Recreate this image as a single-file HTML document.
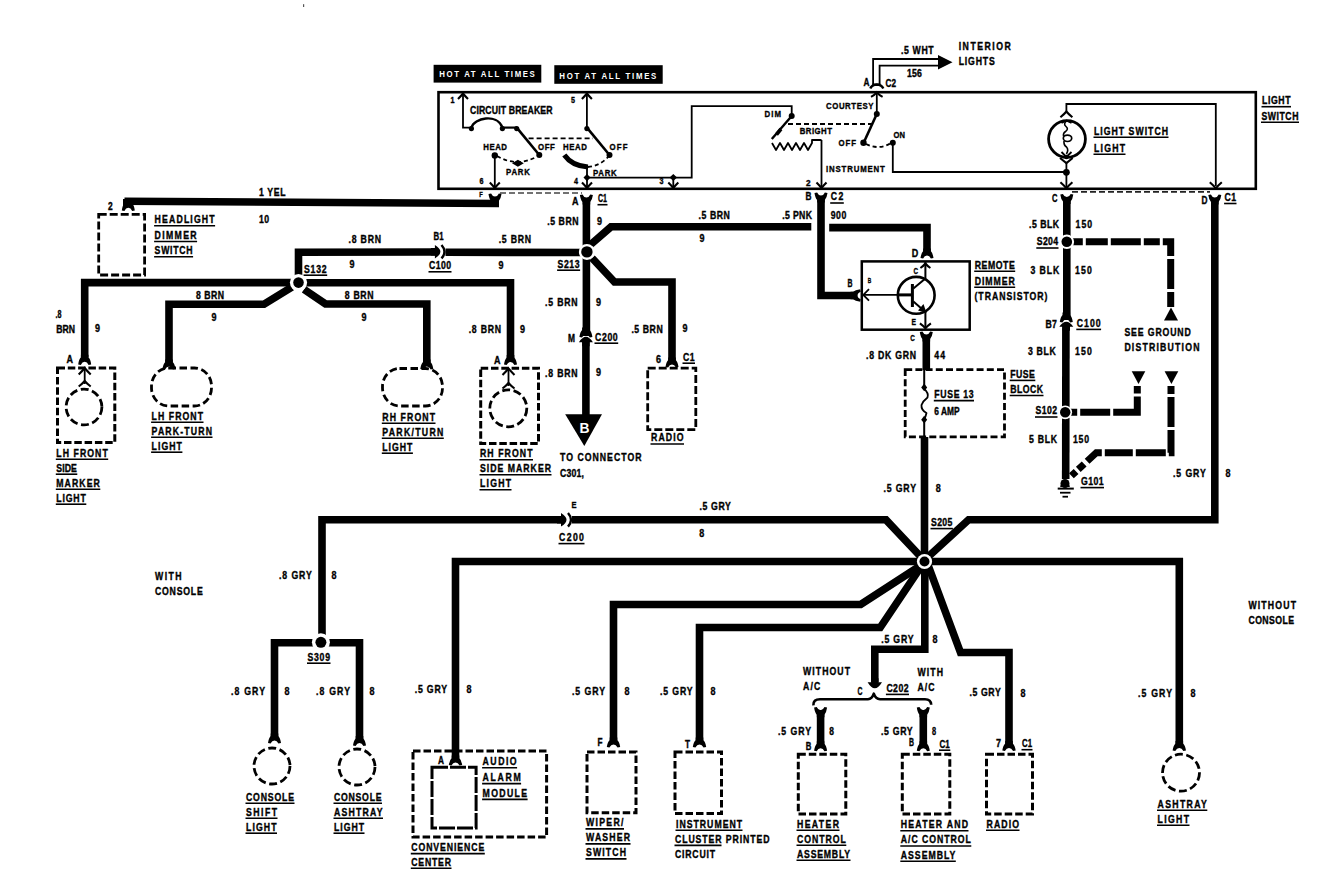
<!DOCTYPE html><html><head><meta charset="utf-8"><style>html,body{margin:0;padding:0;background:#fff;}svg{display:block;}text{font-family:"Liberation Sans",sans-serif;font-weight:bold;}</style></head><body>
<svg width="1344" height="871" viewBox="0 0 1344 871">
<rect width="1344" height="871" fill="#fff"/>
<rect x="433.6" y="64.8" width="107.7" height="17.8" fill="#000"/>
<text transform="translate(439.3,77.2) scale(0.87,1)" x="0" y="0" font-size="9" fill="#fff" textLength="109.8" lengthAdjust="spacing">HOT AT ALL TIMES</text>
<rect x="554.3" y="65.2" width="108.4" height="18.6" fill="#000"/>
<text transform="translate(559.3,78.7) scale(0.87,1)" x="0" y="0" font-size="9" fill="#fff" textLength="111.5" lengthAdjust="spacing">HOT AT ALL TIMES</text>
<rect x="438.5" y="92.2" width="817.3" height="96.6" fill="none" stroke="#000" stroke-width="2.6"/>
<text transform="translate(1262.0,104.1) scale(0.87,1)" x="0" y="0" font-size="10" fill="#000" textLength="32.8" lengthAdjust="spacing" stroke="#000" stroke-width="0.35">LIGHT</text>
<line x1="1261.5" y1="106.7" x2="1291.0" y2="106.7" stroke="#000" stroke-width="1.6"/>
<text transform="translate(1261.5,119.6) scale(0.87,1)" x="0" y="0" font-size="10" fill="#000" textLength="42.5" lengthAdjust="spacing" stroke="#000" stroke-width="0.35">SWITCH</text>
<line x1="1261.0" y1="122.2" x2="1299.0" y2="122.2" stroke="#000" stroke-width="1.6"/>
<text x="450.5" y="103.2" font-size="9" fill="#000" text-anchor="start" textLength="4.0" lengthAdjust="spacingAndGlyphs" stroke="#000" stroke-width="0.35">1</text>
<polyline points="463.0,94.0 463.0,127.6 471.4,127.6" fill="none" stroke="#000" stroke-width="1.8" stroke-linejoin="miter"/>
<path d="M458,99.0 Q461,96.0 463,93.5 Q465,96.0 468,99.0" fill="none" stroke="#000" stroke-width="2.1"/>
<text transform="translate(470.0,113.6) scale(0.87,1)" x="0" y="0" font-size="10" fill="#000" textLength="94.9" lengthAdjust="spacing" stroke="#000" stroke-width="0.35">CIRCUIT BREAKER</text>
<path d="M471.4,127.6 C474,118 497,113 502.4,127.6" fill="none" stroke="#000" stroke-width="2.4" stroke-linejoin="round"/>
<circle cx="471.4" cy="128.6" r="2.6" fill="#000"/>
<circle cx="502.4" cy="128.6" r="2.6" fill="#000"/>
<circle cx="516.7" cy="128.6" r="2.6" fill="#000"/>
<polyline points="502.4,127.6 516.7,127.6" fill="none" stroke="#000" stroke-width="2.2" stroke-linejoin="miter"/>
<path d="M516.7,127.6 L539.3,155" fill="none" stroke="#000" stroke-width="2.6" stroke-linejoin="round"/>
<circle cx="539.3" cy="155.0" r="3.0" fill="#000"/>
<polyline points="528.6,138.3 592.9,138.3" fill="none" stroke="#000" stroke-width="1.8" stroke-linejoin="miter" stroke-dasharray="5 3"/>
<text transform="translate(483.3,149.9) scale(0.87,1)" x="0" y="0" font-size="9" fill="#000" textLength="27.2" lengthAdjust="spacing" stroke="#000" stroke-width="0.35">HEAD</text>
<text transform="translate(538.0,149.9) scale(0.87,1)" x="0" y="0" font-size="9" fill="#000" textLength="19.3" lengthAdjust="spacing" stroke="#000" stroke-width="0.35">OFF</text>
<circle cx="494.8" cy="155.5" r="3.2" fill="#000"/>
<path d="M497,156 Q517,168 538,156" fill="none" stroke="#000" stroke-width="1.8" stroke-dasharray="4 3"/>
<path d="M512,163.3 L517.9,159.8 L523.8,163.3 L517.9,166.8 Z" fill="#000" stroke="none"/>
<text transform="translate(506.0,174.9) scale(0.87,1)" x="0" y="0" font-size="9" fill="#000" textLength="27.4" lengthAdjust="spacing" stroke="#000" stroke-width="0.35">PARK</text>
<polyline points="494.8,155.5 494.8,187.0" fill="none" stroke="#000" stroke-width="1.8" stroke-linejoin="miter"/>
<path d="M489.8,182.5 Q492.8,185.5 494.8,188 Q496.8,185.5 499.8,182.5" fill="none" stroke="#000" stroke-width="2.1"/>
<text x="479.5" y="184.2" font-size="9" fill="#000" text-anchor="start" textLength="4.0" lengthAdjust="spacingAndGlyphs" stroke="#000" stroke-width="0.35">6</text>
<text x="571.0" y="103.2" font-size="9" fill="#000" text-anchor="start" textLength="4.0" lengthAdjust="spacingAndGlyphs" stroke="#000" stroke-width="0.35">5</text>
<polyline points="586.9,94.0 586.9,127.6" fill="none" stroke="#000" stroke-width="1.8" stroke-linejoin="miter"/>
<path d="M581.9,99.0 Q584.9,96.0 586.9,93.5 Q588.9,96.0 591.9,99.0" fill="none" stroke="#000" stroke-width="2.1"/>
<circle cx="586.9" cy="128.6" r="2.6" fill="#000"/>
<path d="M586.9,127.6 L609.5,155" fill="none" stroke="#000" stroke-width="2.6" stroke-linejoin="round"/>
<circle cx="609.5" cy="155.0" r="3.0" fill="#000"/>
<text transform="translate(563.0,149.9) scale(0.87,1)" x="0" y="0" font-size="9" fill="#000" textLength="27.6" lengthAdjust="spacing" stroke="#000" stroke-width="0.35">HEAD</text>
<text transform="translate(609.5,149.9) scale(0.87,1)" x="0" y="0" font-size="9" fill="#000" textLength="20.6" lengthAdjust="spacing" stroke="#000" stroke-width="0.35">OFF</text>
<path d="M564.3,155 Q572,166 588,167" fill="none" stroke="#000" stroke-width="5" stroke-linejoin="round"/>
<path d="M588,167 Q600,166 609,156" fill="none" stroke="#000" stroke-width="1.8" stroke-dasharray="4 3"/>
<text transform="translate(592.9,175.6) scale(0.87,1)" x="0" y="0" font-size="9" fill="#000" textLength="27.4" lengthAdjust="spacing" stroke="#000" stroke-width="0.35">PARK</text>
<polyline points="587.0,167.0 587.0,187.0" fill="none" stroke="#000" stroke-width="1.8" stroke-linejoin="miter"/>
<path d="M587,174 L590.5,177.6 L587,181.2 L583.5,177.6 Z" fill="#000" stroke="none"/>
<path d="M582,182.5 Q585,185.5 587,188 Q589,185.5 592,182.5" fill="none" stroke="#000" stroke-width="2.1"/>
<text x="574.0" y="184.2" font-size="9" fill="#000" text-anchor="start" textLength="4.0" lengthAdjust="spacingAndGlyphs" stroke="#000" stroke-width="0.35">4</text>
<polyline points="587.0,177.6 691.7,177.6 691.7,106.2 791.7,106.2 791.7,116.0" fill="none" stroke="#000" stroke-width="1.8" stroke-linejoin="miter"/>
<path d="M673.3,174 L677,177.5 L673.3,181 L669.6,177.5 Z" fill="#000" stroke="none"/>
<polyline points="673.3,177.5 673.3,187.0" fill="none" stroke="#000" stroke-width="1.8" stroke-linejoin="miter"/>
<path d="M668.3,182.5 Q671.3,185.5 673.3,188 Q675.3,185.5 678.3,182.5" fill="none" stroke="#000" stroke-width="2.1"/>
<text x="659.5" y="184.2" font-size="9" fill="#000" text-anchor="start" textLength="4.0" lengthAdjust="spacingAndGlyphs" stroke="#000" stroke-width="0.35">3</text>
<text transform="translate(764.6,117.2) scale(0.87,1)" x="0" y="0" font-size="9" fill="#000" textLength="18.9" lengthAdjust="spacing" stroke="#000" stroke-width="0.35">DIM</text>
<circle cx="791.7" cy="116.0" r="3.0" fill="#000"/>
<polyline points="788.0,124.0 872.0,124.0" fill="none" stroke="#000" stroke-width="1.8" stroke-linejoin="miter" stroke-dasharray="5 3"/>
<path d="M791.7,116 L771.8,139" fill="none" stroke="#000" stroke-width="2.4" stroke-linejoin="round"/>
<path d="M776.5,134.5 L781,129" fill="none" stroke="#000" stroke-width="3.6" stroke-linejoin="round"/>
<text transform="translate(799.7,134.2) scale(0.87,1)" x="0" y="0" font-size="9" fill="#000" textLength="37.1" lengthAdjust="spacing" stroke="#000" stroke-width="0.35">BRIGHT</text>
<path d="M772,143 L776,150 L780,143 L784,150 L788,143 L792,150 L796,143 L800,150 L804,143 L808,150 L812,143 L812,140 L821.5,140" fill="none" stroke="#000" stroke-width="1.8" stroke-linejoin="round"/>
<polyline points="821.5,140.0 821.5,187.0" fill="none" stroke="#000" stroke-width="1.8" stroke-linejoin="miter"/>
<path d="M816.5,182.5 Q819.5,185.5 821.5,188 Q823.5,185.5 826.5,182.5" fill="none" stroke="#000" stroke-width="2.1"/>
<text transform="translate(826.0,172.2) scale(0.87,1)" x="0" y="0" font-size="9" fill="#000" textLength="67.6" lengthAdjust="spacing" stroke="#000" stroke-width="0.35">INSTRUMENT</text>
<text transform="translate(826.0,108.7) scale(0.87,1)" x="0" y="0" font-size="9" fill="#000" textLength="54.6" lengthAdjust="spacing" stroke="#000" stroke-width="0.35">COURTESY</text>
<polyline points="876.8,92.5 876.8,114.0" fill="none" stroke="#000" stroke-width="1.8" stroke-linejoin="miter"/>
<circle cx="876.8" cy="114.0" r="3.0" fill="#000"/>
<path d="M876.8,114 L864,142" fill="none" stroke="#000" stroke-width="2.6" stroke-linejoin="round"/>
<circle cx="863.5" cy="142.7" r="3.2" fill="#000"/>
<text transform="translate(838.5,146.2) scale(0.87,1)" x="0" y="0" font-size="9" fill="#000" textLength="20.1" lengthAdjust="spacing" stroke="#000" stroke-width="0.35">OFF</text>
<path d="M866,144 Q879,150.5 891,143" fill="none" stroke="#000" stroke-width="1.8" stroke-dasharray="4 3"/>
<circle cx="892.8" cy="142.7" r="3.0" fill="#000"/>
<text x="893.6" y="137.9" font-size="9" fill="#000" text-anchor="start" textLength="11.4" lengthAdjust="spacingAndGlyphs" stroke="#000" stroke-width="0.35">ON</text>
<polyline points="892.8,142.7 892.8,172.0 1066.0,172.0" fill="none" stroke="#000" stroke-width="1.8" stroke-linejoin="miter"/>
<circle cx="1066.4" cy="172.3" r="3.4" fill="#000"/>
<polyline points="873.1,84.5 873.1,59.0 940.0,59.0" fill="none" stroke="#000" stroke-width="1.8" stroke-linejoin="miter"/>
<polyline points="879.6,84.5 879.6,65.6 940.0,65.6" fill="none" stroke="#000" stroke-width="1.8" stroke-linejoin="miter"/>
<polyline points="872.2,84.5 880.5,84.5" fill="none" stroke="#000" stroke-width="1.8" stroke-linejoin="miter"/>
<path d="M938,55 L952.5,62.3 L938,69.6 Z" fill="#000" stroke="none"/>
<path d="M870.3,88.5 Q871.5,85 876.8,84.5 Q882,85 883.3,88.5" fill="none" stroke="#000" stroke-width="2.4" stroke-linejoin="round"/>
<path d="M871.0,96.9 Q874.8,94.9 876.8,92.4 Q878.8,94.9 882.5999999999999,96.9" fill="none" stroke="#000" stroke-width="2.1"/>
<text x="863.5" y="85.6" font-size="10" fill="#000" text-anchor="start" textLength="6.0" lengthAdjust="spacingAndGlyphs" stroke="#000" stroke-width="0.35">A</text>
<text x="885.5" y="86.6" font-size="10" fill="#000" text-anchor="start" textLength="10.5" lengthAdjust="spacingAndGlyphs" stroke="#000" stroke-width="0.35">C2</text>
<text transform="translate(901.0,53.6) scale(0.87,1)" x="0" y="0" font-size="10" fill="#000" textLength="37.5" lengthAdjust="spacing" stroke="#000" stroke-width="0.35">.5 WHT</text>
<text transform="translate(907.0,76.6) scale(0.87,1)" x="0" y="0" font-size="10" fill="#000" textLength="17.2" lengthAdjust="spacing" stroke="#000" stroke-width="0.35">156</text>
<text transform="translate(958.7,49.6) scale(0.87,1)" x="0" y="0" font-size="10" fill="#000" textLength="59.8" lengthAdjust="spacing" stroke="#000" stroke-width="0.35">INTERIOR</text>
<text transform="translate(958.7,64.6) scale(0.87,1)" x="0" y="0" font-size="10" fill="#000" textLength="41.4" lengthAdjust="spacing" stroke="#000" stroke-width="0.35">LIGHTS</text>
<polyline points="1066.4,111.5 1066.4,104.0 1215.8,104.0 1215.8,186.0" fill="none" stroke="#000" stroke-width="1.8" stroke-linejoin="miter"/>
<path d="M1060.4,117.3 Q1064.4,114.0 1066.4,111.5 Q1068.4,114.0 1072.4,117.3" fill="none" stroke="#000" stroke-width="2.1"/>
<circle cx="1067" cy="139" r="18.4" fill="none" stroke="#000" stroke-width="2.8"/>
<path d="M1066.4,121 Q1063,124 1066,126.5 Q1069,129 1065.5,131.5 Q1063,133 1063.5,136" fill="none" stroke="#000" stroke-width="1.6" stroke-linejoin="round"/>
<ellipse cx="1067.5" cy="138.3" rx="4.2" ry="3.2" fill="none" stroke="#000" stroke-width="1.7"/>
<path d="M1064,141 Q1063.5,145 1066.5,147 Q1069,150 1066.4,154" fill="none" stroke="#000" stroke-width="1.6" stroke-linejoin="round"/>
<path d="M1061.5,152 L1066.4,157 L1071.5,152" fill="none" stroke="#000" stroke-width="1.8" stroke-linejoin="round"/>
<path d="M1061.5,123 L1066.4,120.5 L1071.5,123" fill="none" stroke="#000" stroke-width="1.8" stroke-linejoin="round"/>
<circle cx="1066.4" cy="157.0" r="2.2" fill="#000"/>
<polyline points="1060.0,158.0 1066.4,163.1 1072.7,158.0" fill="none" stroke="#000" stroke-width="2" stroke-linejoin="miter"/>
<polyline points="1066.4,163.0 1066.4,187.0" fill="none" stroke="#000" stroke-width="1.8" stroke-linejoin="miter"/>
<path d="M1060.4,182.3 Q1064.4,185.8 1066.4,188.3 Q1068.4,185.8 1072.4,182.3" fill="none" stroke="#000" stroke-width="2.1"/>
<path d="M1209.8,182.3 Q1213.8,185.8 1215.8,188.3 Q1217.8,185.8 1221.8,182.3" fill="none" stroke="#000" stroke-width="2.1"/>
<text transform="translate(1094.0,134.6) scale(0.87,1)" x="0" y="0" font-size="10" fill="#000" textLength="85.1" lengthAdjust="spacing" stroke="#000" stroke-width="0.35">LIGHT SWITCH</text>
<line x1="1093.5" y1="137.2" x2="1168.5" y2="137.2" stroke="#000" stroke-width="1.6"/>
<text transform="translate(1094.0,151.6) scale(0.87,1)" x="0" y="0" font-size="10" fill="#000" textLength="35.6" lengthAdjust="spacing" stroke="#000" stroke-width="0.35">LIGHT</text>
<line x1="1093.5" y1="154.2" x2="1125.5" y2="154.2" stroke="#000" stroke-width="1.6"/>
<polyline points="500,193 582,193" fill="none" stroke="#444" stroke-width="1.5" stroke-dasharray="6 3"/>
<polyline points="1072,191.8 1210,191.8" fill="none" stroke="#222" stroke-width="1.7" stroke-dasharray="6 3"/>
<rect x="303" y="4.2" width="1.2" height="2.8" fill="#555"/>
<polyline points="499.0,203.5 124.5,201.2" fill="none" stroke="#000" stroke-width="7.6" stroke-linejoin="miter" stroke-linecap="butt"/>
<rect x="123" y="199" width="10" height="8" fill="#000"/>
<path transform="translate(128.3,209.8) rotate(0)" d="M-3.8,-9 L-3.8,-6.5 Q-5.8,-4.5 -6.5,0.6 L-3.9,1.1 Q-2.5,-2.0 0,-2.0 Q2.5,-2.0 3.9,1.1 L6.5,0.6 Q5.8,-4.5 3.8,-6.5 L3.8,-9 Z" fill="#000"/>
<path transform="translate(495.0,194.5) rotate(180)" d="M-3.8,-9 L-3.8,-6.5 Q-5.8,-4.5 -6.5,0.6 L-3.9,1.1 Q-2.5,-2.0 0,-2.0 Q2.5,-2.0 3.9,1.1 L6.5,0.6 Q5.8,-4.5 3.8,-6.5 L3.8,-9 Z" fill="#000"/>
<text x="108.0" y="209.5" font-size="11" fill="#000" text-anchor="start" textLength="4.7" lengthAdjust="spacingAndGlyphs" stroke="#000" stroke-width="0.35">2</text>
<text transform="translate(259.0,196.2) scale(0.87,1)" x="0" y="0" font-size="10" fill="#000" textLength="30.5" lengthAdjust="spacing" stroke="#000" stroke-width="0.35">1 YEL</text>
<text transform="translate(259.0,222.6) scale(0.87,1)" x="0" y="0" font-size="10" fill="#000" textLength="11.5" lengthAdjust="spacing" stroke="#000" stroke-width="0.35">10</text>
<rect x="98.7" y="214.4" width="45.9" height="60.6" fill="none" stroke="#000" stroke-width="2.8" stroke-dasharray="8 3"/>
<text transform="translate(154.6,223.1) scale(0.87,1)" x="0" y="0" font-size="10" fill="#000" textLength="69.0" lengthAdjust="spacing" stroke="#000" stroke-width="0.35">HEADLIGHT</text>
<line x1="154.1" y1="225.7" x2="215.1" y2="225.7" stroke="#000" stroke-width="1.6"/>
<text transform="translate(154.6,238.9) scale(0.87,1)" x="0" y="0" font-size="10" fill="#000" textLength="48.3" lengthAdjust="spacing" stroke="#000" stroke-width="0.35">DIMMER</text>
<line x1="154.1" y1="241.5" x2="197.1" y2="241.5" stroke="#000" stroke-width="1.6"/>
<text transform="translate(154.6,254.1) scale(0.87,1)" x="0" y="0" font-size="10" fill="#000" textLength="43.7" lengthAdjust="spacing" stroke="#000" stroke-width="0.35">SWITCH</text>
<line x1="154.1" y1="256.7" x2="193.1" y2="256.7" stroke="#000" stroke-width="1.6"/>
<text x="479.2" y="197.2" font-size="7.5" fill="#000" text-anchor="start" textLength="3.5" lengthAdjust="spacingAndGlyphs" stroke="#000" stroke-width="0.35">F</text>
<text x="572.0" y="205.3" font-size="10" fill="#000" text-anchor="start" textLength="6.5" lengthAdjust="spacingAndGlyphs" stroke="#000" stroke-width="0.35">A</text>
<text x="598.0" y="202.1" font-size="10" fill="#000" text-anchor="start" textLength="9.0" lengthAdjust="spacingAndGlyphs" stroke="#000" stroke-width="0.35">C1</text>
<line x1="597.5" y1="204.7" x2="607.5" y2="204.7" stroke="#000" stroke-width="1.6"/>
<path transform="translate(586.4,195.5) rotate(180)" d="M-3.8,-9 L-3.8,-6.5 Q-5.8,-4.5 -6.5,0.6 L-3.9,1.1 Q-2.5,-2.0 0,-2.0 Q2.5,-2.0 3.9,1.1 L6.5,0.6 Q5.8,-4.5 3.8,-6.5 L3.8,-9 Z" fill="#000"/>
<polyline points="586.4,199.0 586.4,336.0" fill="none" stroke="#000" stroke-width="7.6" stroke-linejoin="miter" stroke-linecap="butt"/>
<polyline points="589.0,246.0 611.0,226.8 811.3,226.8" fill="none" stroke="#000" stroke-width="7.6" stroke-linejoin="miter" stroke-linecap="butt"/>
<polyline points="829.2,227.6 927.0,227.6 927.0,252.0" fill="none" stroke="#000" stroke-width="7.6" stroke-linejoin="miter" stroke-linecap="butt"/>
<path transform="translate(927.0,257.5) rotate(0)" d="M-3.8,-9 L-3.8,-6.5 Q-5.8,-4.5 -6.5,0.6 L-3.9,1.1 Q-2.5,-2.0 0,-2.0 Q2.5,-2.0 3.9,1.1 L6.5,0.6 Q5.8,-4.5 3.8,-6.5 L3.8,-9 Z" fill="#000"/>
<text x="911.8" y="256.9" font-size="10" fill="#000" text-anchor="start" textLength="6.5" lengthAdjust="spacingAndGlyphs" stroke="#000" stroke-width="0.35">D</text>
<polyline points="586.4,252.5 445.5,252.2" fill="none" stroke="#000" stroke-width="7.6" stroke-linejoin="miter" stroke-linecap="butt"/>
<polyline points="436.0,252.0 298.5,252.2 298.5,282.6" fill="none" stroke="#000" stroke-width="7.6" stroke-linejoin="miter" stroke-linecap="butt"/>
<path transform="translate(440.4,251.7) rotate(-90)" d="M-3.7,-9.5 L-3.7,-5.5 L-6.8,-5.5 Q0,5.5 6.8,-5.5 L3.7,-5.5 L3.7,-9.5 Z" fill="#000"/>
<path d="M441.5,245 Q447.5,251.7 441.5,258.4" fill="none" stroke="#000" stroke-width="2.4"/>
<text transform="translate(348.5,242.9) scale(0.87,1)" x="0" y="0" font-size="10" fill="#000" textLength="37.4" lengthAdjust="spacing" stroke="#000" stroke-width="0.35">.8 BRN</text>
<text x="349.5" y="267.9" font-size="10" fill="#000" text-anchor="start" textLength="5.0" lengthAdjust="spacingAndGlyphs" stroke="#000" stroke-width="0.35">9</text>
<text x="433.6" y="240.4" font-size="10" fill="#000" text-anchor="start" textLength="10.0" lengthAdjust="spacingAndGlyphs" stroke="#000" stroke-width="0.35">B1</text>
<text transform="translate(429.0,269.2) scale(0.87,1)" x="0" y="0" font-size="10" fill="#000" textLength="25.3" lengthAdjust="spacing" stroke="#000" stroke-width="0.35">C100</text>
<line x1="428.5" y1="271.8" x2="451.5" y2="271.8" stroke="#000" stroke-width="1.6"/>
<text transform="translate(498.7,242.9) scale(0.87,1)" x="0" y="0" font-size="10" fill="#000" textLength="37.1" lengthAdjust="spacing" stroke="#000" stroke-width="0.35">.5 BRN</text>
<text x="498.5" y="269.4" font-size="10" fill="#000" text-anchor="start" textLength="5.0" lengthAdjust="spacingAndGlyphs" stroke="#000" stroke-width="0.35">9</text>
<text transform="translate(557.6,267.6) scale(0.87,1)" x="0" y="0" font-size="10" fill="#000" textLength="25.3" lengthAdjust="spacing" stroke="#000" stroke-width="0.35">S213</text>
<line x1="557.1" y1="270.2" x2="580.1" y2="270.2" stroke="#000" stroke-width="1.6"/>
<text transform="translate(547.3,225.1) scale(0.87,1)" x="0" y="0" font-size="10" fill="#000" textLength="35.9" lengthAdjust="spacing" stroke="#000" stroke-width="0.35">.5 BRN</text>
<text x="597.0" y="225.1" font-size="10" fill="#000" text-anchor="start" textLength="5.0" lengthAdjust="spacingAndGlyphs" stroke="#000" stroke-width="0.35">9</text>
<text transform="translate(698.5,219.3) scale(0.87,1)" x="0" y="0" font-size="10" fill="#000" textLength="36.1" lengthAdjust="spacing" stroke="#000" stroke-width="0.35">.5 BRN</text>
<text x="699.5" y="242.2" font-size="10" fill="#000" text-anchor="start" textLength="5.0" lengthAdjust="spacingAndGlyphs" stroke="#000" stroke-width="0.35">9</text>
<polyline points="592.0,258.0 614.5,282.0 672.0,282.0 672.0,362.0" fill="none" stroke="#000" stroke-width="7.6" stroke-linejoin="miter" stroke-linecap="butt"/>
<path transform="translate(672.0,366.5) rotate(0)" d="M-3.8,-9 L-3.8,-6.5 Q-5.8,-4.5 -6.5,0.6 L-3.9,1.1 Q-2.5,-2.0 0,-2.0 Q2.5,-2.0 3.9,1.1 L6.5,0.6 Q5.8,-4.5 3.8,-6.5 L3.8,-9 Z" fill="#000"/>
<rect x="647.7" y="368.2" width="48.1" height="61.4" fill="none" stroke="#000" stroke-width="2.8" stroke-dasharray="8 3"/>
<text x="656.0" y="363.4" font-size="10" fill="#000" text-anchor="start" textLength="5.0" lengthAdjust="spacingAndGlyphs" stroke="#000" stroke-width="0.35">6</text>
<text transform="translate(683.0,360.6) scale(0.87,1)" x="0" y="0" font-size="10" fill="#000" textLength="13.2" lengthAdjust="spacing" stroke="#000" stroke-width="0.35">C1</text>
<line x1="682.5" y1="363.2" x2="695.0" y2="363.2" stroke="#000" stroke-width="1.6"/>
<text transform="translate(631.4,333.0) scale(0.87,1)" x="0" y="0" font-size="10" fill="#000" textLength="36.0" lengthAdjust="spacing" stroke="#000" stroke-width="0.35">.5 BRN</text>
<text x="682.5" y="331.8" font-size="10" fill="#000" text-anchor="start" textLength="5.0" lengthAdjust="spacingAndGlyphs" stroke="#000" stroke-width="0.35">9</text>
<text transform="translate(651.0,441.4) scale(0.87,1)" x="0" y="0" font-size="10" fill="#000" textLength="37.4" lengthAdjust="spacing" stroke="#000" stroke-width="0.35">RADIO</text>
<line x1="650.5" y1="444.0" x2="684.0" y2="444.0" stroke="#000" stroke-width="1.6"/>
<path transform="translate(585.9,336.5) rotate(0)" d="M-3.8,-9 L-3.8,-6.5 Q-5.8,-4.5 -6.5,0.6 L-3.9,1.1 Q-2.5,-2.0 0,-2.0 Q2.5,-2.0 3.9,1.1 L6.5,0.6 Q5.8,-4.5 3.8,-6.5 L3.8,-9 Z" fill="#000"/>
<path transform="translate(585.9,336.8) rotate(180)" d="M-3.7,-9.5 L-3.7,-5.5 L-7,-5.5 Q0,5.5 7,-5.5 L3.7,-5.5 L3.7,-9.5 Z" fill="#000"/>
<polyline points="585.9,341.0 585.9,416.0" fill="none" stroke="#000" stroke-width="7.6" stroke-linejoin="miter" stroke-linecap="butt"/>
<path d="M565.2,414.2 L602,414.2 L584.3,446 Z" fill="#000" stroke="none"/>
<text x="584.5" y="432.7" font-size="14.5" fill="#fff" text-anchor="middle" textLength="10.0" lengthAdjust="spacingAndGlyphs">B</text>
<text transform="translate(545.0,306.2) scale(0.87,1)" x="0" y="0" font-size="10" fill="#000" textLength="37.5" lengthAdjust="spacing" stroke="#000" stroke-width="0.35">.5 BRN</text>
<text x="596.0" y="306.2" font-size="10" fill="#000" text-anchor="start" textLength="5.0" lengthAdjust="spacingAndGlyphs" stroke="#000" stroke-width="0.35">9</text>
<text x="571.4" y="341.6" font-size="10" fill="#000" text-anchor="middle" textLength="7.0" lengthAdjust="spacingAndGlyphs" stroke="#000" stroke-width="0.35">M</text>
<text transform="translate(595.0,340.6) scale(0.87,1)" x="0" y="0" font-size="10" fill="#000" textLength="26.1" lengthAdjust="spacing" stroke="#000" stroke-width="0.35">C200</text>
<line x1="594.5" y1="343.2" x2="618.2" y2="343.2" stroke="#000" stroke-width="1.6"/>
<text transform="translate(545.0,376.8) scale(0.87,1)" x="0" y="0" font-size="10" fill="#000" textLength="37.5" lengthAdjust="spacing" stroke="#000" stroke-width="0.35">.8 BRN</text>
<text x="596.0" y="375.9" font-size="10" fill="#000" text-anchor="start" textLength="5.0" lengthAdjust="spacingAndGlyphs" stroke="#000" stroke-width="0.35">9</text>
<text transform="translate(560.0,460.9) scale(0.87,1)" x="0" y="0" font-size="10" fill="#000" textLength="93.7" lengthAdjust="spacing" stroke="#000" stroke-width="0.35">TO CONNECTOR</text>
<text transform="translate(560.0,476.6) scale(0.87,1)" x="0" y="0" font-size="10" fill="#000" textLength="27.6" lengthAdjust="spacing" stroke="#000" stroke-width="0.35">C301,</text>
<polyline points="298.5,282.6 84.7,282.6 84.7,357.0" fill="none" stroke="#000" stroke-width="7.6" stroke-linejoin="miter" stroke-linecap="butt"/>
<path transform="translate(84.7,363.8) rotate(0)" d="M-3.8,-9 L-3.8,-6.5 Q-5.8,-4.5 -6.5,0.6 L-3.9,1.1 Q-2.5,-2.0 0,-2.0 Q2.5,-2.0 3.9,1.1 L6.5,0.6 Q5.8,-4.5 3.8,-6.5 L3.8,-9 Z" fill="#000"/>
<text transform="translate(304.0,272.6) scale(0.87,1)" x="0" y="0" font-size="10" fill="#000" textLength="26.1" lengthAdjust="spacing" stroke="#000" stroke-width="0.35">S132</text>
<line x1="303.5" y1="275.2" x2="327.2" y2="275.2" stroke="#000" stroke-width="1.6"/>
<text x="55.5" y="318.0" font-size="10" fill="#000" text-anchor="start" textLength="6.0" lengthAdjust="spacingAndGlyphs" stroke="#000" stroke-width="0.35">.8</text>
<text x="56.3" y="333.0" font-size="10" fill="#000" text-anchor="start" textLength="18.7" lengthAdjust="spacingAndGlyphs" stroke="#000" stroke-width="0.35">BRN</text>
<text x="95.0" y="332.1" font-size="10" fill="#000" text-anchor="start" textLength="5.0" lengthAdjust="spacingAndGlyphs" stroke="#000" stroke-width="0.35">9</text>
<text x="66.5" y="362.6" font-size="10" fill="#000" text-anchor="start" textLength="6.5" lengthAdjust="spacingAndGlyphs" stroke="#000" stroke-width="0.35">A</text>
<rect x="57.5" y="368.0" width="57.3" height="74.5" fill="none" stroke="#000" stroke-width="3" stroke-dasharray="7.5 2.8"/>
<path d="M78.7,374.5 Q82.7,370.5 84.7,368 Q86.7,370.5 90.7,374.5" fill="none" stroke="#000" stroke-width="2.1"/>
<polyline points="84.7,368.0 84.7,384.0" fill="none" stroke="#000" stroke-width="1.8" stroke-linejoin="miter"/>
<path d="M78.7,386.5 Q82.7,383.5 84.7,381 Q86.7,383.5 90.7,386.5" fill="none" stroke="#000" stroke-width="2.1"/>
<circle cx="84.0" cy="407.0" r="17.9" fill="none" stroke="#000" stroke-width="2.8" stroke-dasharray="8 3.5"/>
<text transform="translate(56.3,456.6) scale(0.87,1)" x="0" y="0" font-size="10" fill="#000" textLength="59.1" lengthAdjust="spacing" stroke="#000" stroke-width="0.35">LH FRONT</text>
<line x1="55.8" y1="459.2" x2="108.2" y2="459.2" stroke="#000" stroke-width="1.6"/>
<text transform="translate(56.3,471.6) scale(0.87,1)" x="0" y="0" font-size="10" fill="#000" textLength="23.6" lengthAdjust="spacing" stroke="#000" stroke-width="0.35">SIDE</text>
<line x1="55.8" y1="474.2" x2="77.3" y2="474.2" stroke="#000" stroke-width="1.6"/>
<text transform="translate(56.3,486.6) scale(0.87,1)" x="0" y="0" font-size="10" fill="#000" textLength="50.0" lengthAdjust="spacing" stroke="#000" stroke-width="0.35">MARKER</text>
<line x1="55.8" y1="489.2" x2="100.3" y2="489.2" stroke="#000" stroke-width="1.6"/>
<text transform="translate(56.3,501.6) scale(0.87,1)" x="0" y="0" font-size="10" fill="#000" textLength="33.9" lengthAdjust="spacing" stroke="#000" stroke-width="0.35">LIGHT</text>
<line x1="55.8" y1="504.2" x2="86.3" y2="504.2" stroke="#000" stroke-width="1.6"/>
<polyline points="292.0,287.0 264.0,304.2 169.0,304.2 169.0,362.0" fill="none" stroke="#000" stroke-width="7.6" stroke-linejoin="miter" stroke-linecap="butt"/>
<path transform="translate(169.0,368.5) rotate(0)" d="M-3.8,-9 L-3.8,-6.5 Q-5.8,-4.5 -6.5,0.6 L-3.9,1.1 Q-2.5,-2.0 0,-2.0 Q2.5,-2.0 3.9,1.1 L6.5,0.6 Q5.8,-4.5 3.8,-6.5 L3.8,-9 Z" fill="#000"/>
<rect x="151.5" y="368" width="60" height="38" rx="17" ry="18" fill="none" stroke="#000" stroke-width="2.8" stroke-dasharray="7.5 3.5"/>
<text transform="translate(196.0,299.2) scale(0.87,1)" x="0" y="0" font-size="10" fill="#000" textLength="32.2" lengthAdjust="spacing" stroke="#000" stroke-width="0.35">8 BRN</text>
<text x="211.5" y="321.0" font-size="10" fill="#000" text-anchor="start" textLength="5.0" lengthAdjust="spacingAndGlyphs" stroke="#000" stroke-width="0.35">9</text>
<text transform="translate(151.6,419.6) scale(0.87,1)" x="0" y="0" font-size="10" fill="#000" textLength="59.1" lengthAdjust="spacing" stroke="#000" stroke-width="0.35">LH FRONT</text>
<line x1="151.1" y1="422.2" x2="203.5" y2="422.2" stroke="#000" stroke-width="1.6"/>
<text transform="translate(151.6,434.6) scale(0.87,1)" x="0" y="0" font-size="10" fill="#000" textLength="69.4" lengthAdjust="spacing" stroke="#000" stroke-width="0.35">PARK-TURN</text>
<line x1="151.1" y1="437.2" x2="212.5" y2="437.2" stroke="#000" stroke-width="1.6"/>
<text transform="translate(151.6,449.6) scale(0.87,1)" x="0" y="0" font-size="10" fill="#000" textLength="34.8" lengthAdjust="spacing" stroke="#000" stroke-width="0.35">LIGHT</text>
<line x1="151.1" y1="452.2" x2="182.4" y2="452.2" stroke="#000" stroke-width="1.6"/>
<polyline points="298.5,282.8 510.5,282.8 510.5,358.0" fill="none" stroke="#000" stroke-width="7.6" stroke-linejoin="miter" stroke-linecap="butt"/>
<path transform="translate(510.5,364.0) rotate(0)" d="M-3.8,-9 L-3.8,-6.5 Q-5.8,-4.5 -6.5,0.6 L-3.9,1.1 Q-2.5,-2.0 0,-2.0 Q2.5,-2.0 3.9,1.1 L6.5,0.6 Q5.8,-4.5 3.8,-6.5 L3.8,-9 Z" fill="#000"/>
<rect x="480.7" y="368.2" width="57.8" height="75.3" fill="none" stroke="#000" stroke-width="3" stroke-dasharray="7.5 2.8"/>
<path d="M502.5,375.0 Q506.5,371.0 508.5,368.5 Q510.5,371.0 514.5,375.0" fill="none" stroke="#000" stroke-width="2.1"/>
<polyline points="508.5,368.5 508.5,386.0" fill="none" stroke="#000" stroke-width="1.8" stroke-linejoin="miter"/>
<path d="M502.5,388.5 Q506.5,385.5 508.5,383 Q510.5,385.5 514.5,388.5" fill="none" stroke="#000" stroke-width="2.1"/>
<circle cx="508.3" cy="408.3" r="18.5" fill="none" stroke="#000" stroke-width="2.8" stroke-dasharray="8 3.5"/>
<text transform="translate(468.7,333.0) scale(0.87,1)" x="0" y="0" font-size="10" fill="#000" textLength="37.1" lengthAdjust="spacing" stroke="#000" stroke-width="0.35">.8 BRN</text>
<text x="520.0" y="333.0" font-size="10" fill="#000" text-anchor="start" textLength="5.0" lengthAdjust="spacingAndGlyphs" stroke="#000" stroke-width="0.35">9</text>
<text x="494.0" y="363.6" font-size="10" fill="#000" text-anchor="start" textLength="6.5" lengthAdjust="spacingAndGlyphs" stroke="#000" stroke-width="0.35">A</text>
<text transform="translate(480.0,457.1) scale(0.87,1)" x="0" y="0" font-size="10" fill="#000" textLength="60.3" lengthAdjust="spacing" stroke="#000" stroke-width="0.35">RH FRONT</text>
<line x1="479.5" y1="459.7" x2="533.0" y2="459.7" stroke="#000" stroke-width="1.6"/>
<text transform="translate(480.0,472.1) scale(0.87,1)" x="0" y="0" font-size="10" fill="#000" textLength="81.6" lengthAdjust="spacing" stroke="#000" stroke-width="0.35">SIDE MARKER</text>
<line x1="479.5" y1="474.7" x2="551.5" y2="474.7" stroke="#000" stroke-width="1.6"/>
<text transform="translate(480.0,487.1) scale(0.87,1)" x="0" y="0" font-size="10" fill="#000" textLength="35.6" lengthAdjust="spacing" stroke="#000" stroke-width="0.35">LIGHT</text>
<line x1="479.5" y1="489.7" x2="511.5" y2="489.7" stroke="#000" stroke-width="1.6"/>
<polyline points="304.0,289.4 325.5,304.0 426.8,304.0 426.8,362.0" fill="none" stroke="#000" stroke-width="7.6" stroke-linejoin="miter" stroke-linecap="butt"/>
<path transform="translate(426.8,368.5) rotate(0)" d="M-3.8,-9 L-3.8,-6.5 Q-5.8,-4.5 -6.5,0.6 L-3.9,1.1 Q-2.5,-2.0 0,-2.0 Q2.5,-2.0 3.9,1.1 L6.5,0.6 Q5.8,-4.5 3.8,-6.5 L3.8,-9 Z" fill="#000"/>
<rect x="382.5" y="368.5" width="60" height="37.5" rx="17" ry="18" fill="none" stroke="#000" stroke-width="2.8" stroke-dasharray="7.5 3.5"/>
<text transform="translate(344.8,299.2) scale(0.87,1)" x="0" y="0" font-size="10" fill="#000" textLength="33.1" lengthAdjust="spacing" stroke="#000" stroke-width="0.35">8 BRN</text>
<text x="361.5" y="321.2" font-size="10" fill="#000" text-anchor="start" textLength="5.0" lengthAdjust="spacingAndGlyphs" stroke="#000" stroke-width="0.35">9</text>
<text transform="translate(382.3,420.6) scale(0.87,1)" x="0" y="0" font-size="10" fill="#000" textLength="60.6" lengthAdjust="spacing" stroke="#000" stroke-width="0.35">RH FRONT</text>
<line x1="381.8" y1="423.2" x2="435.5" y2="423.2" stroke="#000" stroke-width="1.6"/>
<text transform="translate(382.3,435.6) scale(0.87,1)" x="0" y="0" font-size="10" fill="#000" textLength="70.1" lengthAdjust="spacing" stroke="#000" stroke-width="0.35">PARK/TURN</text>
<line x1="381.8" y1="438.2" x2="443.8" y2="438.2" stroke="#000" stroke-width="1.6"/>
<text transform="translate(382.3,450.6) scale(0.87,1)" x="0" y="0" font-size="10" fill="#000" textLength="34.6" lengthAdjust="spacing" stroke="#000" stroke-width="0.35">LIGHT</text>
<line x1="381.8" y1="453.2" x2="412.9" y2="453.2" stroke="#000" stroke-width="1.6"/>
<path transform="translate(821.0,193.5) rotate(180)" d="M-3.8,-9 L-3.8,-6.5 Q-5.8,-4.5 -6.5,0.6 L-3.9,1.1 Q-2.5,-2.0 0,-2.0 Q2.5,-2.0 3.9,1.1 L6.5,0.6 Q5.8,-4.5 3.8,-6.5 L3.8,-9 Z" fill="#000"/>
<polyline points="821.0,197.0 821.0,295.5 855.0,295.5" fill="none" stroke="#000" stroke-width="7.6" stroke-linejoin="miter" stroke-linecap="butt"/>
<path transform="translate(859.6,295.5) rotate(-90)" d="M-3.8,-9 L-3.8,-6.5 Q-5.62,-4.5 -6.32,0.6 L-3.72,1.1 Q-2.5,-2.0 0,-2.0 Q2.5,-2.0 3.72,1.1 L6.32,0.6 Q5.62,-4.5 3.8,-6.5 L3.8,-9 Z" fill="#000"/>
<text x="805.4" y="200.4" font-size="10" fill="#000" text-anchor="start" textLength="6.0" lengthAdjust="spacingAndGlyphs" stroke="#000" stroke-width="0.35">B</text>
<text x="806.0" y="185.8" font-size="9" fill="#000" text-anchor="start" textLength="4.6" lengthAdjust="spacingAndGlyphs" stroke="#000" stroke-width="0.35">2</text>
<text transform="translate(830.7,200.4) scale(0.87,1)" x="0" y="0" font-size="10" fill="#000" textLength="14.5" lengthAdjust="spacing" stroke="#000" stroke-width="0.35">C2</text>
<line x1="830.2" y1="203.0" x2="843.8" y2="203.0" stroke="#000" stroke-width="1.6"/>
<text transform="translate(782.3,219.2) scale(0.87,1)" x="0" y="0" font-size="10" fill="#000" textLength="34.1" lengthAdjust="spacing" stroke="#000" stroke-width="0.35">.5 PNK</text>
<text transform="translate(830.7,219.2) scale(0.87,1)" x="0" y="0" font-size="10" fill="#000" textLength="17.9" lengthAdjust="spacing" stroke="#000" stroke-width="0.35">900</text>
<text x="847.6" y="287.1" font-size="10" fill="#000" text-anchor="start" textLength="5.0" lengthAdjust="spacingAndGlyphs" stroke="#000" stroke-width="0.35">B</text>
<rect x="861.8" y="261.4" width="107.9" height="68.3" fill="none" stroke="#000" stroke-width="2.5"/>
<circle cx="916.2" cy="295.3" r="18.4" fill="none" stroke="#000" stroke-width="2.6"/>
<polyline points="864.0,294.9 911.0,294.9" fill="none" stroke="#000" stroke-width="1.6" stroke-linejoin="miter"/>
<polyline points="898.0,294.9 911.0,294.9" fill="none" stroke="#000" stroke-width="3" stroke-linejoin="miter"/>
<polyline points="912.4,284.0 912.4,307.0" fill="none" stroke="#000" stroke-width="3" stroke-linejoin="miter"/>
<polyline points="913.4,288.5 925.4,278.5 925.4,262.0" fill="none" stroke="#000" stroke-width="2" stroke-linejoin="miter"/>
<polyline points="913.4,301.5 922.0,309.0" fill="none" stroke="#000" stroke-width="2" stroke-linejoin="miter"/>
<path d="M918,310.5 L926.5,313 L923.5,304 Z" fill="#000" stroke="none"/>
<polyline points="925.4,311.0 925.4,328.0" fill="none" stroke="#000" stroke-width="2" stroke-linejoin="miter"/>
<path d="M920.4,268.0 Q923.4,266.0 925.4,263.5 Q927.4,266.0 930.4,268.0" fill="none" stroke="#000" stroke-width="2.1"/>
<path d="M919.9,323.4 Q923.4,325.9 925.4,328.4 Q927.4,325.9 930.9,323.4" fill="none" stroke="#000" stroke-width="2.1"/>
<polyline points="869.0,289.2 863.3,294.9 869.0,300.6" fill="none" stroke="#000" stroke-width="1.8" stroke-linejoin="miter"/>
<text x="913.4" y="274.1" font-size="9" fill="#000" text-anchor="start" textLength="4.6" lengthAdjust="spacingAndGlyphs" stroke="#000" stroke-width="0.35">C</text>
<text x="911.5" y="325.2" font-size="9" fill="#000" text-anchor="start" textLength="4.5" lengthAdjust="spacingAndGlyphs" stroke="#000" stroke-width="0.35">E</text>
<text x="867.8" y="283.3" font-size="8" fill="#000" text-anchor="start" textLength="3.5" lengthAdjust="spacingAndGlyphs" stroke="#000" stroke-width="0.35">B</text>
<text transform="translate(974.7,268.6) scale(0.87,1)" x="0" y="0" font-size="10" fill="#000" textLength="46.0" lengthAdjust="spacing" stroke="#000" stroke-width="0.35">REMOTE</text>
<line x1="974.2" y1="271.2" x2="1015.2" y2="271.2" stroke="#000" stroke-width="1.6"/>
<text transform="translate(974.7,284.6) scale(0.87,1)" x="0" y="0" font-size="10" fill="#000" textLength="46.0" lengthAdjust="spacing" stroke="#000" stroke-width="0.35">DIMMER</text>
<line x1="974.2" y1="287.2" x2="1015.2" y2="287.2" stroke="#000" stroke-width="1.6"/>
<text transform="translate(974.5,299.8) scale(0.87,1)" x="0" y="0" font-size="10" fill="#000" textLength="83.9" lengthAdjust="spacing" stroke="#000" stroke-width="0.35">(TRANSISTOR)</text>
<path transform="translate(926.3,332.5) rotate(180)" d="M-3.8,-9 L-3.8,-6.5 Q-5.8,-4.5 -6.5,0.6 L-3.9,1.1 Q-2.5,-2.0 0,-2.0 Q2.5,-2.0 3.9,1.1 L6.5,0.6 Q5.8,-4.5 3.8,-6.5 L3.8,-9 Z" fill="#000"/>
<polyline points="926.3,335.0 926.3,370.0" fill="none" stroke="#000" stroke-width="7.6" stroke-linejoin="miter" stroke-linecap="butt"/>
<text x="910.2" y="341.2" font-size="9" fill="#000" text-anchor="start" textLength="4.6" lengthAdjust="spacingAndGlyphs" stroke="#000" stroke-width="0.35">C</text>
<text transform="translate(866.0,359.3) scale(0.87,1)" x="0" y="0" font-size="10" fill="#000" textLength="57.5" lengthAdjust="spacing" stroke="#000" stroke-width="0.35">.8 DK GRN</text>
<text transform="translate(934.3,359.3) scale(0.87,1)" x="0" y="0" font-size="10" fill="#000" textLength="12.3" lengthAdjust="spacing" stroke="#000" stroke-width="0.35">44</text>
<rect x="905.2" y="369.7" width="99.3" height="67.1" fill="none" stroke="#000" stroke-width="2.8" stroke-dasharray="7 3.2"/>
<polyline points="924.2,369.7 924.2,389.0" fill="none" stroke="#000" stroke-width="2" stroke-linejoin="miter"/>
<path d="M924.2,389 Q929,393 927.5,397.5 Q923,401 921.5,405 Q921,410 926.5,413 Q925.5,417 924.2,419.7" fill="none" stroke="#000" stroke-width="1.8" stroke-linejoin="round"/>
<polyline points="924.2,419.7 924.2,437.0" fill="none" stroke="#000" stroke-width="2" stroke-linejoin="miter"/>
<path d="M924.2,383.5 L927.2,387.4 L924.2,391.3 L921.2,387.4 Z" fill="#000" stroke="none"/>
<path d="M924.2,415.8 L927.2,419.7 L924.2,423.6 L921.2,419.7 Z" fill="#000" stroke="none"/>
<text transform="translate(934.3,398.0) scale(0.87,1)" x="0" y="0" font-size="10" fill="#000" textLength="45.1" lengthAdjust="spacing" stroke="#000" stroke-width="0.35">FUSE 13</text>
<line x1="933.8" y1="400.6" x2="974.0" y2="400.6" stroke="#000" stroke-width="1.6"/>
<text x="934.3" y="415.1" font-size="10" fill="#000" text-anchor="start" textLength="25.3" lengthAdjust="spacingAndGlyphs" stroke="#000" stroke-width="0.35">6 AMP</text>
<text transform="translate(1010.2,377.8) scale(0.87,1)" x="0" y="0" font-size="10" fill="#000" textLength="28.3" lengthAdjust="spacing" stroke="#000" stroke-width="0.35">FUSE</text>
<line x1="1009.7" y1="380.4" x2="1035.3" y2="380.4" stroke="#000" stroke-width="1.6"/>
<text transform="translate(1010.2,392.9) scale(0.87,1)" x="0" y="0" font-size="10" fill="#000" textLength="37.7" lengthAdjust="spacing" stroke="#000" stroke-width="0.35">BLOCK</text>
<line x1="1009.7" y1="395.5" x2="1043.5" y2="395.5" stroke="#000" stroke-width="1.6"/>
<path transform="translate(1066.8,195.0) rotate(180)" d="M-3.8,-9 L-3.8,-6.5 Q-5.8,-4.5 -6.5,0.6 L-3.9,1.1 Q-2.5,-2.0 0,-2.0 Q2.5,-2.0 3.9,1.1 L6.5,0.6 Q5.8,-4.5 3.8,-6.5 L3.8,-9 Z" fill="#000"/>
<polyline points="1066.8,198.0 1066.8,320.0" fill="none" stroke="#000" stroke-width="7.6" stroke-linejoin="miter" stroke-linecap="butt"/>
<path transform="translate(1066.3,321.5) rotate(0)" d="M-3.8,-9 L-3.8,-6.5 Q-5.8,-4.5 -6.5,0.6 L-3.9,1.1 Q-2.5,-2.0 0,-2.0 Q2.5,-2.0 3.9,1.1 L6.5,0.6 Q5.8,-4.5 3.8,-6.5 L3.8,-9 Z" fill="#000"/>
<path transform="translate(1066.3,321.8) rotate(180)" d="M-3.7,-9 L-3.7,-5 L-7,-5 Q0,5 7,-5 L3.7,-5 L3.7,-9 Z" fill="#000"/>
<polyline points="1065.9,326.0 1065.7,479.0" fill="none" stroke="#000" stroke-width="7.6" stroke-linejoin="miter" stroke-linecap="butt"/>
<polyline points="1066.8,241.8 1170.7,241.8 1170.7,307.0" fill="none" stroke="#000" stroke-width="7" stroke-linejoin="miter" stroke-linecap="butt" stroke-dasharray="16 3 22 3 30 3"/>
<path d="M1164,320.6 L1171,307.5 L1178,320.6 Z" fill="#000" stroke="none"/>
<polyline points="1065.2,412.3 1137.3,412.3 1137.3,386.0" fill="none" stroke="#000" stroke-width="7" stroke-linejoin="miter" stroke-linecap="butt" stroke-dasharray="12 3 30 3 40 3"/>
<path d="M1131.7,371.3 L1145.3,371.3 L1138.5,384 Z" fill="#000" stroke="none"/>
<path d="M1164.6,371.3 L1178.3,371.3 L1171.4,384 Z" fill="#000" stroke="none"/>
<polyline points="1171.0,386.0 1171.0,452.8 1096.3,452.8 1071.4,475.8" fill="none" stroke="#000" stroke-width="7" stroke-linejoin="miter" stroke-linecap="butt" stroke-dasharray="8 3 30 3 25 3 30 3 28 3 18 4"/>
<path d="M1060.2,487 A4.8,4.8 0 0 1 1069.8,487 Z" fill="#000"/>
<circle cx="1065.0" cy="483.5" r="4.5" fill="#000"/>
<polyline points="1057.7,488.6 1073.8,488.6" fill="none" stroke="#000" stroke-width="2" stroke-linejoin="miter"/>
<polyline points="1060.0,492.7 1070.5,492.7" fill="none" stroke="#000" stroke-width="1.8" stroke-linejoin="miter"/>
<polyline points="1062.5,496.7 1068.0,496.7" fill="none" stroke="#000" stroke-width="1.8" stroke-linejoin="miter"/>
<text x="1052.0" y="201.8" font-size="10" fill="#000" text-anchor="start" textLength="5.5" lengthAdjust="spacingAndGlyphs" stroke="#000" stroke-width="0.35">C</text>
<text x="1201.5" y="203.6" font-size="10" fill="#000" text-anchor="start" textLength="6.0" lengthAdjust="spacingAndGlyphs" stroke="#000" stroke-width="0.35">D</text>
<text transform="translate(1224.6,200.9) scale(0.87,1)" x="0" y="0" font-size="10" fill="#000" textLength="13.1" lengthAdjust="spacing" stroke="#000" stroke-width="0.35">C1</text>
<line x1="1224.1" y1="203.5" x2="1236.5" y2="203.5" stroke="#000" stroke-width="1.6"/>
<text transform="translate(1029.0,227.9) scale(0.87,1)" x="0" y="0" font-size="10" fill="#000" textLength="34.5" lengthAdjust="spacing" stroke="#000" stroke-width="0.35">.5 BLK</text>
<text transform="translate(1075.6,227.9) scale(0.87,1)" x="0" y="0" font-size="10" fill="#000" textLength="18.9" lengthAdjust="spacing" stroke="#000" stroke-width="0.35">150</text>
<text transform="translate(1036.8,245.4) scale(0.87,1)" x="0" y="0" font-size="10" fill="#000" textLength="24.4" lengthAdjust="spacing" stroke="#000" stroke-width="0.35">S204</text>
<line x1="1036.3" y1="248.0" x2="1058.5" y2="248.0" stroke="#000" stroke-width="1.6"/>
<text transform="translate(1030.5,274.2) scale(0.87,1)" x="0" y="0" font-size="10" fill="#000" textLength="33.1" lengthAdjust="spacing" stroke="#000" stroke-width="0.35">3 BLK</text>
<text transform="translate(1075.0,274.2) scale(0.87,1)" x="0" y="0" font-size="10" fill="#000" textLength="19.5" lengthAdjust="spacing" stroke="#000" stroke-width="0.35">150</text>
<text transform="translate(1045.6,328.0) scale(0.87,1)" x="0" y="0" font-size="10" fill="#000" textLength="12.9" lengthAdjust="spacing" stroke="#000" stroke-width="0.35">B7</text>
<text transform="translate(1076.8,326.8) scale(0.87,1)" x="0" y="0" font-size="10" fill="#000" textLength="27.4" lengthAdjust="spacing" stroke="#000" stroke-width="0.35">C100</text>
<line x1="1076.3" y1="329.4" x2="1101.1" y2="329.4" stroke="#000" stroke-width="1.6"/>
<text transform="translate(1124.4,335.6) scale(0.87,1)" x="0" y="0" font-size="10" fill="#000" textLength="76.3" lengthAdjust="spacing" stroke="#000" stroke-width="0.35">SEE GROUND</text>
<text transform="translate(1124.4,351.3) scale(0.87,1)" x="0" y="0" font-size="10" fill="#000" textLength="86.3" lengthAdjust="spacing" stroke="#000" stroke-width="0.35">DISTRIBUTION</text>
<text transform="translate(1027.9,355.0) scale(0.87,1)" x="0" y="0" font-size="10" fill="#000" textLength="32.0" lengthAdjust="spacing" stroke="#000" stroke-width="0.35">3 BLK</text>
<text transform="translate(1075.0,355.1) scale(0.87,1)" x="0" y="0" font-size="10" fill="#000" textLength="19.5" lengthAdjust="spacing" stroke="#000" stroke-width="0.35">150</text>
<text transform="translate(1035.5,414.4) scale(0.87,1)" x="0" y="0" font-size="10" fill="#000" textLength="24.7" lengthAdjust="spacing" stroke="#000" stroke-width="0.35">S102</text>
<line x1="1035.0" y1="417.0" x2="1057.5" y2="417.0" stroke="#000" stroke-width="1.6"/>
<text transform="translate(1029.0,443.4) scale(0.87,1)" x="0" y="0" font-size="10" fill="#000" textLength="32.2" lengthAdjust="spacing" stroke="#000" stroke-width="0.35">5 BLK</text>
<text transform="translate(1073.0,443.4) scale(0.87,1)" x="0" y="0" font-size="10" fill="#000" textLength="18.4" lengthAdjust="spacing" stroke="#000" stroke-width="0.35">150</text>
<text transform="translate(1081.0,485.0) scale(0.87,1)" x="0" y="0" font-size="10" fill="#000" textLength="25.9" lengthAdjust="spacing" stroke="#000" stroke-width="0.35">G101</text>
<line x1="1080.5" y1="487.6" x2="1104.0" y2="487.6" stroke="#000" stroke-width="1.6"/>
<path transform="translate(1214.8,195.5) rotate(180)" d="M-3.8,-9 L-3.8,-6.5 Q-5.8,-4.5 -6.5,0.6 L-3.9,1.1 Q-2.5,-2.0 0,-2.0 Q2.5,-2.0 3.9,1.1 L6.5,0.6 Q5.8,-4.5 3.8,-6.5 L3.8,-9 Z" fill="#000"/>
<polyline points="1214.8,198.0 1214.8,519.8 968.6,519.8 929.0,556.0" fill="none" stroke="#000" stroke-width="7.6" stroke-linejoin="miter" stroke-linecap="butt"/>
<text transform="translate(1173.0,476.6) scale(0.87,1)" x="0" y="0" font-size="10" fill="#000" textLength="37.7" lengthAdjust="spacing" stroke="#000" stroke-width="0.35">.5 GRY</text>
<text x="1225.5" y="476.6" font-size="10" fill="#000" text-anchor="start" textLength="5.0" lengthAdjust="spacingAndGlyphs" stroke="#000" stroke-width="0.35">8</text>
<polyline points="924.5,437.0 924.5,556.0" fill="none" stroke="#000" stroke-width="7.6" stroke-linejoin="miter" stroke-linecap="butt"/>
<text transform="translate(883.6,492.2) scale(0.87,1)" x="0" y="0" font-size="10" fill="#000" textLength="37.2" lengthAdjust="spacing" stroke="#000" stroke-width="0.35">.5 GRY</text>
<text x="935.8" y="492.2" font-size="10" fill="#000" text-anchor="start" textLength="5.0" lengthAdjust="spacingAndGlyphs" stroke="#000" stroke-width="0.35">8</text>
<polyline points="322.0,641.0 322.0,519.8 562.5,519.8" fill="none" stroke="#000" stroke-width="7.6" stroke-linejoin="miter" stroke-linecap="butt"/>
<path transform="translate(566.5,519.8) rotate(-90)" d="M-3.7,-9.5 L-3.7,-5.5 L-6.8,-5.5 Q0,5.5 6.8,-5.5 L3.7,-5.5 L3.7,-9.5 Z" fill="#000"/>
<path d="M568,513 Q574,519.8 568,526.6" fill="none" stroke="#000" stroke-width="2.4"/>
<polyline points="572.0,519.8 886.0,519.8 921.0,557.0" fill="none" stroke="#000" stroke-width="7.6" stroke-linejoin="miter" stroke-linecap="butt"/>
<text x="571.5" y="508.2" font-size="9" fill="#000" text-anchor="start" textLength="5.0" lengthAdjust="spacingAndGlyphs" stroke="#000" stroke-width="0.35">E</text>
<text transform="translate(559.0,541.0) scale(0.87,1)" x="0" y="0" font-size="10" fill="#000" textLength="28.7" lengthAdjust="spacing" stroke="#000" stroke-width="0.35">C200</text>
<line x1="558.5" y1="543.6" x2="584.5" y2="543.6" stroke="#000" stroke-width="1.6"/>
<text transform="translate(699.5,509.6) scale(0.87,1)" x="0" y="0" font-size="10" fill="#000" textLength="36.0" lengthAdjust="spacing" stroke="#000" stroke-width="0.35">.5 GRY</text>
<text x="699.3" y="537.2" font-size="10" fill="#000" text-anchor="start" textLength="5.0" lengthAdjust="spacingAndGlyphs" stroke="#000" stroke-width="0.35">8</text>
<text transform="translate(279.0,578.6) scale(0.87,1)" x="0" y="0" font-size="10" fill="#000" textLength="37.6" lengthAdjust="spacing" stroke="#000" stroke-width="0.35">.8 GRY</text>
<text x="331.5" y="578.6" font-size="10" fill="#000" text-anchor="start" textLength="5.0" lengthAdjust="spacingAndGlyphs" stroke="#000" stroke-width="0.35">8</text>
<polyline points="920.0,561.5 455.5,561.5 455.5,758.0" fill="none" stroke="#000" stroke-width="7.6" stroke-linejoin="miter" stroke-linecap="butt"/>
<path transform="translate(455.5,764.5) rotate(0)" d="M-3.8,-9 L-3.8,-6.5 Q-5.98,-4.5 -6.680000000000001,0.6 L-4.08,1.1 Q-2.5,-2.0 0,-2.0 Q2.5,-2.0 4.08,1.1 L6.680000000000001,0.6 Q5.98,-4.5 3.8,-6.5 L3.8,-9 Z" fill="#000"/>
<polyline points="929.0,561.5 1179.3,561.5 1179.3,744.0" fill="none" stroke="#000" stroke-width="7.6" stroke-linejoin="miter" stroke-linecap="butt"/>
<path transform="translate(1179.3,750.0) rotate(0)" d="M-3.8,-9 L-3.8,-6.5 Q-5.98,-4.5 -6.680000000000001,0.6 L-4.08,1.1 Q-2.5,-2.0 0,-2.0 Q2.5,-2.0 4.08,1.1 L6.680000000000001,0.6 Q5.98,-4.5 3.8,-6.5 L3.8,-9 Z" fill="#000"/>
<polyline points="920.0,566.0 860.7,604.5 613.5,604.5 613.5,740.0" fill="none" stroke="#000" stroke-width="7.6" stroke-linejoin="miter" stroke-linecap="butt"/>
<path transform="translate(613.5,746.5) rotate(0)" d="M-3.8,-9 L-3.8,-6.5 Q-5.98,-4.5 -6.680000000000001,0.6 L-4.08,1.1 Q-2.5,-2.0 0,-2.0 Q2.5,-2.0 4.08,1.1 L6.680000000000001,0.6 Q5.98,-4.5 3.8,-6.5 L3.8,-9 Z" fill="#000"/>
<polyline points="921.5,566.0 880.2,627.5 699.5,627.5 699.5,740.0" fill="none" stroke="#000" stroke-width="7.6" stroke-linejoin="miter" stroke-linecap="butt"/>
<path transform="translate(699.5,746.5) rotate(0)" d="M-3.8,-9 L-3.8,-6.5 Q-5.98,-4.5 -6.680000000000001,0.6 L-4.08,1.1 Q-2.5,-2.0 0,-2.0 Q2.5,-2.0 4.08,1.1 L6.680000000000001,0.6 Q5.98,-4.5 3.8,-6.5 L3.8,-9 Z" fill="#000"/>
<text transform="translate(881.3,642.6) scale(0.87,1)" x="0" y="0" font-size="10" fill="#000" textLength="37.0" lengthAdjust="spacing" stroke="#000" stroke-width="0.35">.5 GRY</text>
<text x="932.5" y="642.6" font-size="10" fill="#000" text-anchor="start" textLength="5.0" lengthAdjust="spacingAndGlyphs" stroke="#000" stroke-width="0.35">8</text>
<polyline points="924.8,562.0 924.8,649.3 874.8,649.3 874.8,682.0" fill="none" stroke="#000" stroke-width="7.6" stroke-linejoin="miter" stroke-linecap="butt"/>
<path transform="translate(874.8,688.2) rotate(0)" d="M-3.7,-10 L-3.7,-6 L-7.2,-6 Q0,6 7.2,-6 L3.7,-6 L3.7,-10 Z" fill="#000"/>
<polyline points="928.0,565.0 960.5,652.5 1009.0,652.5 1009.0,744.0" fill="none" stroke="#000" stroke-width="7.6" stroke-linejoin="miter" stroke-linecap="butt"/>
<path transform="translate(1009.0,750.0) rotate(0)" d="M-3.8,-9 L-3.8,-6.5 Q-5.98,-4.5 -6.680000000000001,0.6 L-4.08,1.1 Q-2.5,-2.0 0,-2.0 Q2.5,-2.0 4.08,1.1 L6.680000000000001,0.6 Q5.98,-4.5 3.8,-6.5 L3.8,-9 Z" fill="#000"/>
<text transform="translate(931.0,526.0) scale(0.87,1)" x="0" y="0" font-size="10" fill="#000" textLength="24.6" lengthAdjust="spacing" stroke="#000" stroke-width="0.35">S205</text>
<line x1="930.5" y1="528.6" x2="952.9" y2="528.6" stroke="#000" stroke-width="1.6"/>
<text transform="translate(1248.4,608.6) scale(0.87,1)" x="0" y="0" font-size="10" fill="#000" textLength="54.7" lengthAdjust="spacing" stroke="#000" stroke-width="0.35">WITHOUT</text>
<text transform="translate(1248.4,624.4) scale(0.87,1)" x="0" y="0" font-size="10" fill="#000" textLength="52.6" lengthAdjust="spacing" stroke="#000" stroke-width="0.35">CONSOLE</text>
<text transform="translate(155.0,579.8) scale(0.87,1)" x="0" y="0" font-size="10" fill="#000" textLength="30.5" lengthAdjust="spacing" stroke="#000" stroke-width="0.35">WITH</text>
<text transform="translate(155.0,595.3) scale(0.87,1)" x="0" y="0" font-size="10" fill="#000" textLength="54.9" lengthAdjust="spacing" stroke="#000" stroke-width="0.35">CONSOLE</text>
<polyline points="321.0,642.8 274.5,642.8 274.5,738.0" fill="none" stroke="#000" stroke-width="7.6" stroke-linejoin="miter" stroke-linecap="butt"/>
<path transform="translate(274.5,742.5) rotate(0)" d="M-3.8,-9 L-3.8,-6.5 Q-5.8,-4.5 -6.5,0.6 L-3.9,1.1 Q-2.5,-2.0 0,-2.0 Q2.5,-2.0 3.9,1.1 L6.5,0.6 Q5.8,-4.5 3.8,-6.5 L3.8,-9 Z" fill="#000"/>
<polyline points="321.0,642.8 359.5,642.8 359.5,740.0" fill="none" stroke="#000" stroke-width="7.6" stroke-linejoin="miter" stroke-linecap="butt"/>
<path transform="translate(359.5,745.0) rotate(0)" d="M-3.8,-9 L-3.8,-6.5 Q-5.8,-4.5 -6.5,0.6 L-3.9,1.1 Q-2.5,-2.0 0,-2.0 Q2.5,-2.0 3.9,1.1 L6.5,0.6 Q5.8,-4.5 3.8,-6.5 L3.8,-9 Z" fill="#000"/>
<text transform="translate(307.5,660.6) scale(0.87,1)" x="0" y="0" font-size="10" fill="#000" textLength="25.9" lengthAdjust="spacing" stroke="#000" stroke-width="0.35">S309</text>
<line x1="307.0" y1="663.2" x2="330.5" y2="663.2" stroke="#000" stroke-width="1.6"/>
<text transform="translate(231.0,695.1) scale(0.87,1)" x="0" y="0" font-size="10" fill="#000" textLength="39.1" lengthAdjust="spacing" stroke="#000" stroke-width="0.35">.8 GRY</text>
<text x="284.5" y="695.1" font-size="10" fill="#000" text-anchor="start" textLength="5.0" lengthAdjust="spacingAndGlyphs" stroke="#000" stroke-width="0.35">8</text>
<text transform="translate(316.0,695.1) scale(0.87,1)" x="0" y="0" font-size="10" fill="#000" textLength="39.1" lengthAdjust="spacing" stroke="#000" stroke-width="0.35">.8 GRY</text>
<text x="369.5" y="695.1" font-size="10" fill="#000" text-anchor="start" textLength="5.0" lengthAdjust="spacingAndGlyphs" stroke="#000" stroke-width="0.35">8</text>
<circle cx="272.0" cy="766.0" r="18.0" fill="none" stroke="#000" stroke-width="2.8" stroke-dasharray="8 3.5"/>
<circle cx="357.0" cy="767.0" r="18.0" fill="none" stroke="#000" stroke-width="2.8" stroke-dasharray="8 3.5"/>
<text transform="translate(246.0,800.6) scale(0.87,1)" x="0" y="0" font-size="10" fill="#000" textLength="55.2" lengthAdjust="spacing" stroke="#000" stroke-width="0.35">CONSOLE</text>
<line x1="245.5" y1="803.2" x2="294.5" y2="803.2" stroke="#000" stroke-width="1.6"/>
<text transform="translate(246.0,815.6) scale(0.87,1)" x="0" y="0" font-size="10" fill="#000" textLength="35.6" lengthAdjust="spacing" stroke="#000" stroke-width="0.35">SHIFT</text>
<line x1="245.5" y1="818.2" x2="277.5" y2="818.2" stroke="#000" stroke-width="1.6"/>
<text transform="translate(246.0,830.6) scale(0.87,1)" x="0" y="0" font-size="10" fill="#000" textLength="35.1" lengthAdjust="spacing" stroke="#000" stroke-width="0.35">LIGHT</text>
<line x1="245.5" y1="833.2" x2="277.0" y2="833.2" stroke="#000" stroke-width="1.6"/>
<text transform="translate(334.0,800.6) scale(0.87,1)" x="0" y="0" font-size="10" fill="#000" textLength="54.6" lengthAdjust="spacing" stroke="#000" stroke-width="0.35">CONSOLE</text>
<line x1="333.5" y1="803.2" x2="382.0" y2="803.2" stroke="#000" stroke-width="1.6"/>
<text transform="translate(334.0,815.6) scale(0.87,1)" x="0" y="0" font-size="10" fill="#000" textLength="55.7" lengthAdjust="spacing" stroke="#000" stroke-width="0.35">ASHTRAY</text>
<line x1="333.5" y1="818.2" x2="383.0" y2="818.2" stroke="#000" stroke-width="1.6"/>
<text transform="translate(334.0,830.6) scale(0.87,1)" x="0" y="0" font-size="10" fill="#000" textLength="34.5" lengthAdjust="spacing" stroke="#000" stroke-width="0.35">LIGHT</text>
<line x1="333.5" y1="833.2" x2="364.5" y2="833.2" stroke="#000" stroke-width="1.6"/>
<rect x="413.0" y="751.0" width="133.6" height="85.9" fill="none" stroke="#000" stroke-width="3" stroke-dasharray="7.5 3"/>
<rect x="432.0" y="767.2" width="44.1" height="60.8" fill="none" stroke="#000" stroke-width="3" stroke-dasharray="16 2"/>
<text x="438.0" y="763.6" font-size="10" fill="#000" text-anchor="start" textLength="6.0" lengthAdjust="spacingAndGlyphs" stroke="#000" stroke-width="0.35">A</text>
<text transform="translate(482.6,765.2) scale(0.87,1)" x="0" y="0" font-size="10" fill="#000" textLength="39.1" lengthAdjust="spacing" stroke="#000" stroke-width="0.35">AUDIO</text>
<line x1="482.1" y1="767.8" x2="517.1" y2="767.8" stroke="#000" stroke-width="1.6"/>
<text transform="translate(482.6,781.0) scale(0.87,1)" x="0" y="0" font-size="10" fill="#000" textLength="43.7" lengthAdjust="spacing" stroke="#000" stroke-width="0.35">ALARM</text>
<line x1="482.1" y1="783.6" x2="521.1" y2="783.6" stroke="#000" stroke-width="1.6"/>
<text transform="translate(482.6,796.8) scale(0.87,1)" x="0" y="0" font-size="10" fill="#000" textLength="51.1" lengthAdjust="spacing" stroke="#000" stroke-width="0.35">MODULE</text>
<line x1="482.1" y1="799.4" x2="527.6" y2="799.4" stroke="#000" stroke-width="1.6"/>
<text transform="translate(411.3,851.0) scale(0.87,1)" x="0" y="0" font-size="10" fill="#000" textLength="83.9" lengthAdjust="spacing" stroke="#000" stroke-width="0.35">CONVENIENCE</text>
<line x1="410.8" y1="853.6" x2="484.8" y2="853.6" stroke="#000" stroke-width="1.6"/>
<text transform="translate(411.3,865.6) scale(0.87,1)" x="0" y="0" font-size="10" fill="#000" textLength="45.6" lengthAdjust="spacing" stroke="#000" stroke-width="0.35">CENTER</text>
<line x1="410.8" y1="868.2" x2="451.5" y2="868.2" stroke="#000" stroke-width="1.6"/>
<text transform="translate(414.7,693.1) scale(0.87,1)" x="0" y="0" font-size="10" fill="#000" textLength="37.1" lengthAdjust="spacing" stroke="#000" stroke-width="0.35">.5 GRY</text>
<text x="466.5" y="693.1" font-size="10" fill="#000" text-anchor="start" textLength="5.0" lengthAdjust="spacingAndGlyphs" stroke="#000" stroke-width="0.35">8</text>
<rect x="587.0" y="752.0" width="49.0" height="60.7" fill="none" stroke="#000" stroke-width="3" stroke-dasharray="7.5 3"/>
<text x="597.5" y="746.3" font-size="10" fill="#000" text-anchor="start" textLength="5.0" lengthAdjust="spacingAndGlyphs" stroke="#000" stroke-width="0.35">F</text>
<text transform="translate(572.0,694.6) scale(0.87,1)" x="0" y="0" font-size="10" fill="#000" textLength="37.9" lengthAdjust="spacing" stroke="#000" stroke-width="0.35">.5 GRY</text>
<text x="624.5" y="694.6" font-size="10" fill="#000" text-anchor="start" textLength="5.0" lengthAdjust="spacingAndGlyphs" stroke="#000" stroke-width="0.35">8</text>
<text transform="translate(586.0,826.3) scale(0.87,1)" x="0" y="0" font-size="10" fill="#000" textLength="43.1" lengthAdjust="spacing" stroke="#000" stroke-width="0.35">WIPER/</text>
<line x1="585.5" y1="828.9" x2="624.0" y2="828.9" stroke="#000" stroke-width="1.6"/>
<text transform="translate(586.0,841.3) scale(0.87,1)" x="0" y="0" font-size="10" fill="#000" textLength="50.6" lengthAdjust="spacing" stroke="#000" stroke-width="0.35">WASHER</text>
<line x1="585.5" y1="843.9" x2="630.5" y2="843.9" stroke="#000" stroke-width="1.6"/>
<text transform="translate(586.0,856.3) scale(0.87,1)" x="0" y="0" font-size="10" fill="#000" textLength="46.0" lengthAdjust="spacing" stroke="#000" stroke-width="0.35">SWITCH</text>
<line x1="585.5" y1="858.9" x2="626.5" y2="858.9" stroke="#000" stroke-width="1.6"/>
<rect x="675.0" y="752.0" width="46.5" height="61.5" fill="none" stroke="#000" stroke-width="3" stroke-dasharray="7.5 3"/>
<text x="685.0" y="747.6" font-size="10" fill="#000" text-anchor="start" textLength="5.0" lengthAdjust="spacingAndGlyphs" stroke="#000" stroke-width="0.35">T</text>
<text transform="translate(660.0,694.6) scale(0.87,1)" x="0" y="0" font-size="10" fill="#000" textLength="37.4" lengthAdjust="spacing" stroke="#000" stroke-width="0.35">.5 GRY</text>
<text x="710.5" y="694.6" font-size="10" fill="#000" text-anchor="start" textLength="5.0" lengthAdjust="spacingAndGlyphs" stroke="#000" stroke-width="0.35">8</text>
<text transform="translate(676.0,827.6) scale(0.87,1)" x="0" y="0" font-size="10" fill="#000" textLength="75.9" lengthAdjust="spacing" stroke="#000" stroke-width="0.35">INSTRUMENT</text>
<line x1="675.5" y1="830.2" x2="742.5" y2="830.2" stroke="#000" stroke-width="1.6"/>
<text transform="translate(675.0,842.6) scale(0.87,1)" x="0" y="0" font-size="10" fill="#000" textLength="108.6" lengthAdjust="spacing" stroke="#000" stroke-width="0.35">CLUSTER PRINTED</text>
<line x1="674.5" y1="845.4" x2="721.5" y2="845.4" stroke="#000" stroke-width="1.6"/>
<text transform="translate(675.0,857.6) scale(0.87,1)" x="0" y="0" font-size="10" fill="#000" textLength="46.0" lengthAdjust="spacing" stroke="#000" stroke-width="0.35">CIRCUIT</text>
<path d="M813.4,705.4 Q813,699.2 820,699.2 L868,699.2 Q872,699 873.8,693.7 Q875.6,699 880,699.2 L925,699.2 Q931,699.2 931.2,704.7" fill="none" stroke="#000" stroke-width="2.6" stroke-linejoin="round"/>
<text x="857.5" y="694.6" font-size="10" fill="#000" text-anchor="start" textLength="5.0" lengthAdjust="spacingAndGlyphs" stroke="#000" stroke-width="0.35">C</text>
<text transform="translate(886.4,691.8) scale(0.87,1)" x="0" y="0" font-size="10" fill="#000" textLength="25.4" lengthAdjust="spacing" stroke="#000" stroke-width="0.35">C202</text>
<line x1="885.9" y1="694.4" x2="909.0" y2="694.4" stroke="#000" stroke-width="1.6"/>
<text transform="translate(803.0,674.6) scale(0.87,1)" x="0" y="0" font-size="10" fill="#000" textLength="54.0" lengthAdjust="spacing" stroke="#000" stroke-width="0.35">WITHOUT</text>
<text transform="translate(803.0,690.4) scale(0.87,1)" x="0" y="0" font-size="10" fill="#000" textLength="19.9" lengthAdjust="spacing" stroke="#000" stroke-width="0.35">A/C</text>
<text transform="translate(917.4,675.6) scale(0.87,1)" x="0" y="0" font-size="10" fill="#000" textLength="29.4" lengthAdjust="spacing" stroke="#000" stroke-width="0.35">WITH</text>
<text transform="translate(917.4,691.1) scale(0.87,1)" x="0" y="0" font-size="10" fill="#000" textLength="19.8" lengthAdjust="spacing" stroke="#000" stroke-width="0.35">A/C</text>
<polyline points="820.6,710.0 820.6,747.0" fill="none" stroke="#000" stroke-width="7.6" stroke-linejoin="miter" stroke-linecap="butt"/>
<path transform="translate(820.6,708.2) rotate(180)" d="M-3.8,-9 L-3.8,-6.5 Q-5.8,-4.5 -6.5,0.6 L-3.9,1.1 Q-2.5,-2.0 0,-2.0 Q2.5,-2.0 3.9,1.1 L6.5,0.6 Q5.8,-4.5 3.8,-6.5 L3.8,-9 Z" fill="#000"/>
<path transform="translate(820.6,750.2) rotate(0)" d="M-3.8,-9 L-3.8,-6.5 Q-5.8,-4.5 -6.5,0.6 L-3.9,1.1 Q-2.5,-2.0 0,-2.0 Q2.5,-2.0 3.9,1.1 L6.5,0.6 Q5.8,-4.5 3.8,-6.5 L3.8,-9 Z" fill="#000"/>
<polyline points="923.3,710.0 923.3,747.0" fill="none" stroke="#000" stroke-width="7.6" stroke-linejoin="miter" stroke-linecap="butt"/>
<path transform="translate(923.3,708.2) rotate(180)" d="M-3.8,-9 L-3.8,-6.5 Q-5.8,-4.5 -6.5,0.6 L-3.9,1.1 Q-2.5,-2.0 0,-2.0 Q2.5,-2.0 3.9,1.1 L6.5,0.6 Q5.8,-4.5 3.8,-6.5 L3.8,-9 Z" fill="#000"/>
<path transform="translate(923.3,750.2) rotate(0)" d="M-3.8,-9 L-3.8,-6.5 Q-5.8,-4.5 -6.5,0.6 L-3.9,1.1 Q-2.5,-2.0 0,-2.0 Q2.5,-2.0 3.9,1.1 L6.5,0.6 Q5.8,-4.5 3.8,-6.5 L3.8,-9 Z" fill="#000"/>
<text transform="translate(778.0,734.6) scale(0.87,1)" x="0" y="0" font-size="10" fill="#000" textLength="37.9" lengthAdjust="spacing" stroke="#000" stroke-width="0.35">.5 GRY</text>
<text x="829.3" y="735.2" font-size="10" fill="#000" text-anchor="start" textLength="4.7" lengthAdjust="spacingAndGlyphs" stroke="#000" stroke-width="0.35">8</text>
<text x="805.8" y="749.6" font-size="10" fill="#000" text-anchor="start" textLength="5.6" lengthAdjust="spacingAndGlyphs" stroke="#000" stroke-width="0.35">B</text>
<text transform="translate(881.0,735.2) scale(0.87,1)" x="0" y="0" font-size="10" fill="#000" textLength="36.3" lengthAdjust="spacing" stroke="#000" stroke-width="0.35">.5 GRY</text>
<text x="931.9" y="735.2" font-size="10" fill="#000" text-anchor="start" textLength="4.1" lengthAdjust="spacingAndGlyphs" stroke="#000" stroke-width="0.35">8</text>
<text x="909.0" y="746.2" font-size="10" fill="#000" text-anchor="start" textLength="5.0" lengthAdjust="spacingAndGlyphs" stroke="#000" stroke-width="0.35">B</text>
<text x="939.5" y="747.6" font-size="10" fill="#000" text-anchor="start" textLength="10.3" lengthAdjust="spacingAndGlyphs" stroke="#000" stroke-width="0.35">C1</text>
<line x1="939.0" y1="750.2" x2="950.3" y2="750.2" stroke="#000" stroke-width="1.6"/>
<rect x="798.3" y="754.3" width="47.5" height="59.7" fill="none" stroke="#000" stroke-width="3" stroke-dasharray="7.5 3"/>
<rect x="902.3" y="754.3" width="47.5" height="59.7" fill="none" stroke="#000" stroke-width="3" stroke-dasharray="7.5 3"/>
<text transform="translate(797.0,827.6) scale(0.87,1)" x="0" y="0" font-size="10" fill="#000" textLength="48.3" lengthAdjust="spacing" stroke="#000" stroke-width="0.35">HEATER</text>
<line x1="796.5" y1="830.2" x2="839.5" y2="830.2" stroke="#000" stroke-width="1.6"/>
<text transform="translate(797.0,842.6) scale(0.87,1)" x="0" y="0" font-size="10" fill="#000" textLength="56.1" lengthAdjust="spacing" stroke="#000" stroke-width="0.35">CONTROL</text>
<line x1="796.5" y1="845.2" x2="846.3" y2="845.2" stroke="#000" stroke-width="1.6"/>
<text transform="translate(797.0,857.6) scale(0.87,1)" x="0" y="0" font-size="10" fill="#000" textLength="60.9" lengthAdjust="spacing" stroke="#000" stroke-width="0.35">ASSEMBLY</text>
<line x1="796.5" y1="860.2" x2="850.5" y2="860.2" stroke="#000" stroke-width="1.6"/>
<text transform="translate(900.8,828.1) scale(0.87,1)" x="0" y="0" font-size="10" fill="#000" textLength="77.2" lengthAdjust="spacing" stroke="#000" stroke-width="0.35">HEATER AND</text>
<line x1="900.3" y1="830.7" x2="968.5" y2="830.7" stroke="#000" stroke-width="1.6"/>
<text transform="translate(900.8,843.4) scale(0.87,1)" x="0" y="0" font-size="10" fill="#000" textLength="80.5" lengthAdjust="spacing" stroke="#000" stroke-width="0.35">A/C CONTROL</text>
<line x1="900.3" y1="846.0" x2="971.3" y2="846.0" stroke="#000" stroke-width="1.6"/>
<text transform="translate(900.8,858.7) scale(0.87,1)" x="0" y="0" font-size="10" fill="#000" textLength="62.6" lengthAdjust="spacing" stroke="#000" stroke-width="0.35">ASSEMBLY</text>
<line x1="900.3" y1="861.3" x2="955.8" y2="861.3" stroke="#000" stroke-width="1.6"/>
<rect x="986.5" y="754.3" width="46.0" height="59.7" fill="none" stroke="#000" stroke-width="3" stroke-dasharray="7.5 3"/>
<text x="996.0" y="747.1" font-size="10" fill="#000" text-anchor="start" textLength="5.0" lengthAdjust="spacingAndGlyphs" stroke="#000" stroke-width="0.35">7</text>
<text x="1022.0" y="747.1" font-size="10" fill="#000" text-anchor="start" textLength="10.0" lengthAdjust="spacingAndGlyphs" stroke="#000" stroke-width="0.35">C1</text>
<line x1="1021.5" y1="749.7" x2="1032.5" y2="749.7" stroke="#000" stroke-width="1.6"/>
<text transform="translate(969.5,696.0) scale(0.87,1)" x="0" y="0" font-size="10" fill="#000" textLength="35.9" lengthAdjust="spacing" stroke="#000" stroke-width="0.35">.5 GRY</text>
<text x="1020.5" y="696.5" font-size="10" fill="#000" text-anchor="start" textLength="5.0" lengthAdjust="spacingAndGlyphs" stroke="#000" stroke-width="0.35">8</text>
<text transform="translate(986.5,827.6) scale(0.87,1)" x="0" y="0" font-size="10" fill="#000" textLength="37.4" lengthAdjust="spacing" stroke="#000" stroke-width="0.35">RADIO</text>
<line x1="986.0" y1="830.2" x2="1019.5" y2="830.2" stroke="#000" stroke-width="1.6"/>
<circle cx="1181.0" cy="772.7" r="18.5" fill="none" stroke="#000" stroke-width="2.8" stroke-dasharray="8 3.5"/>
<text transform="translate(1138.0,696.6) scale(0.87,1)" x="0" y="0" font-size="10" fill="#000" textLength="39.1" lengthAdjust="spacing" stroke="#000" stroke-width="0.35">.5 GRY</text>
<text x="1190.5" y="696.6" font-size="10" fill="#000" text-anchor="start" textLength="5.0" lengthAdjust="spacingAndGlyphs" stroke="#000" stroke-width="0.35">8</text>
<text transform="translate(1157.5,807.6) scale(0.87,1)" x="0" y="0" font-size="10" fill="#000" textLength="56.7" lengthAdjust="spacing" stroke="#000" stroke-width="0.35">ASHTRAY</text>
<line x1="1157.0" y1="810.2" x2="1207.3" y2="810.2" stroke="#000" stroke-width="1.6"/>
<text transform="translate(1157.5,822.6) scale(0.87,1)" x="0" y="0" font-size="10" fill="#000" textLength="36.2" lengthAdjust="spacing" stroke="#000" stroke-width="0.35">LIGHT</text>
<line x1="1157.0" y1="825.2" x2="1189.5" y2="825.2" stroke="#000" stroke-width="1.6"/>
<circle cx="298.5" cy="282.6" r="8.6" fill="#fff"/>
<circle cx="298.5" cy="282.6" r="5.3" fill="#000"/>
<circle cx="586.9" cy="251.9" r="8" fill="#fff"/>
<circle cx="586.9" cy="251.9" r="5.7" fill="#000"/>
<circle cx="1066.8" cy="241.8" r="7.3" fill="#fff"/>
<circle cx="1066.8" cy="241.8" r="5.3" fill="#000"/>
<circle cx="1065.2" cy="412.3" r="6.9" fill="#fff"/>
<circle cx="1065.2" cy="412.3" r="5.2" fill="#000"/>
<circle cx="320.9" cy="642.3" r="9" fill="#fff"/>
<circle cx="320.9" cy="642.3" r="5.5" fill="#000"/>
<circle cx="924.5" cy="561.5" r="7.6" fill="#fff"/>
<circle cx="924.5" cy="561.5" r="5.0" fill="#000"/>
</svg></body></html>
